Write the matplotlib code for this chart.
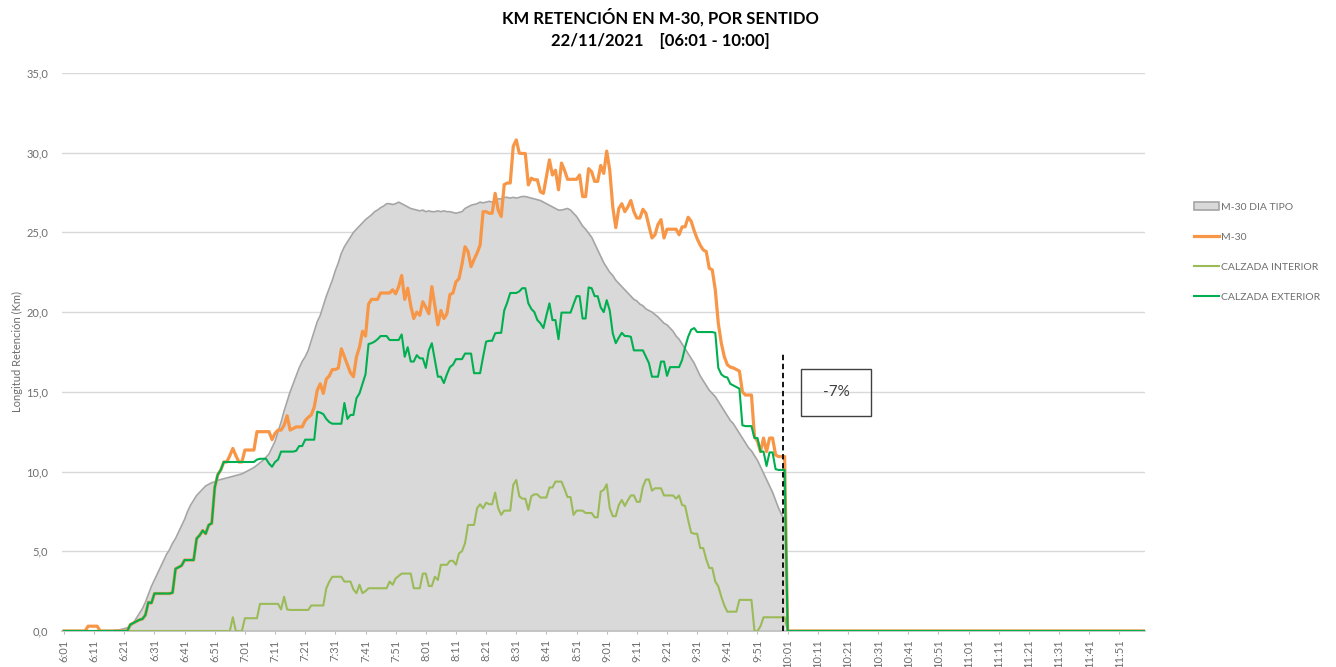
import numpy as np
import matplotlib.pyplot as plt
from matplotlib.patches import Rectangle, Patch
from matplotlib.lines import Line2D

plt.rcParams['font.family'] = ['Lato', 'DejaVu Sans']

# minute-by-minute values from 6:01 to 10:00 (240 points), km
dia_tipo = [
    0, 0, 0, 0, 0, 0, 0, 0, 0, 0,
    0, 0, 0, 0, 0, 0, 0, 0.05, 0.05, 0.1,
    0.15, 0.2, 0.3, 0.5, 0.8, 1.1, 1.4, 1.8, 2.3, 2.8,
    3.2, 3.6, 4.0, 4.4, 4.8, 5.1, 5.5, 5.8, 6.2, 6.6,
    7.0, 7.5, 7.9, 8.2, 8.5, 8.7, 8.9, 9.1, 9.2, 9.3,
    9.35, 9.45, 9.5, 9.55, 9.6, 9.65, 9.7, 9.75, 9.8, 9.85,
    9.95, 10.05, 10.15, 10.25, 10.4, 10.55, 10.7, 10.9, 11.1, 11.5,
    11.9, 12.5, 13.1, 13.8, 14.4, 15.0, 15.5, 16.0, 16.5, 16.9,
    17.2, 17.6, 18.2, 18.8, 19.4, 19.8, 20.4, 21.0, 21.5, 22.0,
    22.6, 23.1, 23.7, 24.1, 24.4, 24.7, 25.0, 25.2, 25.4, 25.6,
    25.8, 25.95, 26.1, 26.3, 26.4, 26.55, 26.65, 26.8, 26.8, 26.75,
    26.8, 26.9, 26.8, 26.7, 26.6, 26.5, 26.45, 26.4, 26.35, 26.4,
    26.3, 26.35, 26.3, 26.3, 26.35, 26.3, 26.35, 26.3, 26.3, 26.25,
    26.2, 26.25, 26.3, 26.5, 26.6, 26.7, 26.75, 26.8, 26.9, 26.85,
    26.9, 26.95, 26.9, 27.0, 27.1, 27.1, 27.2, 27.2, 27.15, 27.2,
    27.15, 27.2, 27.25, 27.25, 27.2, 27.15, 27.1, 27.05, 27.0, 26.9,
    26.8, 26.7, 26.6, 26.5, 26.4, 26.4, 26.45, 26.5, 26.4, 26.2,
    26.0, 25.7, 25.4, 25.2, 24.95, 24.7, 24.3, 23.9, 23.5, 23.1,
    22.8, 22.5, 22.3, 22.0, 21.8, 21.6, 21.4, 21.2, 21.0, 20.8,
    20.7, 20.5, 20.4, 20.2, 20.1, 20.0, 19.85, 19.7, 19.5, 19.3,
    19.2, 19.0, 18.8, 18.5, 18.3, 18.0, 17.7, 17.4, 17.1, 16.8,
    16.4, 16.0, 15.7, 15.4, 15.1, 14.9, 14.7, 14.4, 14.1, 13.8,
    13.5, 13.2, 13.0, 12.7, 12.4, 12.1, 11.8, 11.5, 11.3, 11.0,
    10.7, 10.3, 9.9, 9.5, 9.1, 8.7, 8.2, 7.7, 7.3, 7.0,
]

m30 = [
    0, 0, 0, 0, 0, 0, 0, 0, 0.3, 0.3,
    0.3, 0.3, 0, 0, 0, 0, 0, 0, 0, 0,
    0, 0, 0.4, 0.5, 0.6, 0.7, 0.75, 1.0, 1.8, 1.75,
    2.35, 2.35, 2.35, 2.35, 2.35, 2.35, 2.4, 3.9, 4.0, 4.1,
    4.45, 4.45, 4.45, 4.45, 5.8, 6.0, 6.3, 6.1, 6.65, 6.75,
    9.0, 9.8, 10.1, 10.6, 10.6, 11.0, 11.45, 11.0, 10.6, 10.6,
    11.35, 11.35, 11.35, 11.35, 12.5, 12.5, 12.5, 12.5, 12.5, 12.0,
    12.4, 12.6, 12.6, 12.9, 13.5, 12.6, 12.7, 12.8, 12.8, 12.8,
    13.2, 13.4, 13.55, 14.05, 15.1, 15.5, 14.9, 15.8, 16.0, 16.4,
    16.4, 16.5, 17.7, 17.2, 16.7, 16.2, 15.95, 17.2, 17.8, 18.8,
    18.5, 20.5, 20.8, 20.8, 20.8, 21.2, 21.2, 21.2, 21.2, 21.4,
    21.15, 21.6, 22.3, 20.8, 21.5, 20.4, 19.6, 20.0, 19.8, 20.65,
    20.3, 19.9, 21.6, 20.4, 19.2, 20.1, 19.6, 19.9, 21.1, 21.2,
    21.9, 22.1, 23.0, 24.1, 23.8, 22.85, 23.3, 23.7, 24.2, 26.3,
    26.3, 26.2, 26.2, 27.45, 26.4, 26.0, 28.0, 28.1, 28.1, 30.4,
    30.8, 29.97, 29.95, 29.95, 27.98, 28.4, 28.3, 28.3, 27.55, 27.45,
    28.5, 29.55, 28.6, 28.9, 27.67, 29.35, 28.9, 28.33, 28.33, 28.33,
    28.33, 28.6, 27.25, 27.25, 29.0, 28.8, 28.2, 28.2, 29.2, 28.7,
    30.1, 28.9, 26.6, 25.3, 26.5, 26.8, 26.3, 26.6, 27.0, 26.3,
    25.9, 25.9, 26.45, 26.2, 25.4, 24.65, 24.85, 25.5, 25.8, 24.65,
    25.2, 25.2, 25.2, 25.2, 24.85, 25.35, 25.35, 25.95, 25.7, 25.1,
    24.6, 24.2, 23.9, 23.8, 22.75, 22.65, 21.4, 19.3, 18.05, 17.2,
    16.7, 16.55, 16.5, 16.4, 16.3, 15.0, 14.8, 14.8, 14.8, 12.2,
    11.9, 11.25, 12.1, 11.25, 12.1, 12.1, 11.04, 10.94, 10.94, 10.94,
]

exterior = [
    0, 0, 0, 0, 0, 0, 0, 0, 0, 0,
    0, 0, 0, 0, 0, 0, 0, 0, 0, 0,
    0, 0, 0.4, 0.5, 0.6, 0.7, 0.75, 1.0, 1.8, 1.75,
    2.35, 2.35, 2.35, 2.35, 2.35, 2.35, 2.4, 3.9, 4.0, 4.1,
    4.45, 4.45, 4.45, 4.45, 5.8, 6.0, 6.3, 6.1, 6.65, 6.75,
    9.0, 9.8, 10.1, 10.6, 10.6, 10.6, 10.6, 10.6, 10.6, 10.6,
    10.6, 10.6, 10.6, 10.6, 10.75, 10.8, 10.8, 10.8, 10.5, 10.3,
    10.6, 10.75, 11.25, 11.25, 11.25, 11.25, 11.25, 11.3, 11.6, 11.6,
    12.0, 12.0, 12.0, 12.0, 13.75, 13.7, 13.6, 13.3, 13.1, 13.0,
    13.0, 13.0, 13.0, 14.3, 13.3, 13.55, 13.55, 14.6, 14.9, 15.5,
    16.1, 18.0, 18.05, 18.15, 18.3, 18.5, 18.5, 18.5, 18.25, 18.25,
    18.25, 18.25, 18.6, 17.2, 17.8, 16.9, 16.9, 17.3, 17.1, 17.1,
    16.5, 17.6, 18.05, 17.0, 15.95, 15.95, 15.55, 16.1, 16.55, 16.7,
    17.05, 17.05, 17.05, 17.4, 17.4, 17.4, 16.17, 16.17, 16.17, 17.2,
    18.15, 18.2, 18.2, 18.67, 18.7, 18.7, 20.1, 20.6, 21.2, 21.2,
    21.2, 21.3, 21.5, 21.5, 20.55, 20.2, 20.0, 19.5, 19.3, 19.0,
    19.8, 20.55, 19.5, 19.5, 18.3, 19.97, 19.97, 19.97, 19.97, 20.5,
    21.0, 21.0, 19.6, 19.6, 21.55, 21.5, 21.0, 21.0, 20.3, 20.0,
    20.75, 20.1, 18.67, 18.05, 18.4, 18.7, 18.5, 18.5, 18.45, 17.6,
    17.6, 17.6, 17.6, 17.2, 16.8, 15.95, 15.95, 15.95, 16.9, 16.9,
    16.0, 16.55, 16.55, 16.55, 16.55, 17.0, 17.8, 18.45, 18.9, 19.0,
    18.75, 18.75, 18.75, 18.75, 18.75, 18.75, 18.7, 16.5, 16.1, 15.95,
    15.9, 15.5, 15.4, 15.3, 15.2, 12.9, 12.85, 12.85, 12.85, 12.1,
    12.1, 11.25, 11.25, 10.35, 11.2, 11.2, 10.15, 10.1, 10.1, 10.1,
]

interior = [
    0, 0, 0, 0, 0, 0, 0, 0, 0, 0,
    0, 0, 0, 0, 0, 0, 0, 0, 0, 0,
    0, 0, 0, 0, 0, 0, 0, 0, 0, 0,
    0, 0, 0, 0, 0, 0, 0, 0, 0, 0,
    0, 0, 0, 0, 0, 0, 0, 0, 0, 0,
    0, 0, 0, 0, 0, 0, 0.86, 0, 0, 0,
    0.8, 0.8, 0.8, 0.8, 0.8, 1.7, 1.7, 1.7, 1.7, 1.7,
    1.7, 1.7, 1.35, 2.15, 1.35, 1.32, 1.32, 1.32, 1.32, 1.32,
    1.32, 1.32, 1.6, 1.6, 1.6, 1.6, 1.6, 2.68, 3.1, 3.4,
    3.4, 3.4, 3.4, 3.1, 3.1, 3.1, 2.6, 2.37, 2.9, 2.37,
    2.5, 2.68, 2.68, 2.68, 2.68, 2.68, 2.68, 2.68, 3.1, 2.9,
    3.3, 3.45, 3.6, 3.6, 3.6, 3.6, 2.68, 2.68, 2.68, 3.6,
    3.6, 2.82, 2.82, 3.4, 3.2, 4.15, 4.15, 4.15, 4.4, 4.4,
    4.15, 4.87, 5.0, 5.5, 6.65, 6.65, 6.65, 7.7, 7.95, 7.7,
    8.05, 7.95, 7.95, 8.68, 7.7, 7.28, 7.55, 7.55, 7.55, 9.16,
    9.47, 8.45, 8.3, 8.3, 7.6, 8.45, 8.57, 8.57, 8.37, 8.37,
    8.37, 9.0, 9.0, 9.37, 9.37, 9.37, 8.9, 8.4, 8.4, 7.28,
    7.55, 7.55, 7.55, 7.4, 7.4, 7.4, 7.13, 7.13, 8.74, 8.85,
    9.2, 7.7, 7.2, 7.2, 7.9, 8.22, 7.84, 8.2, 8.5, 8.5,
    8.1, 8.1, 9.05, 9.5, 9.5, 8.8, 8.95, 8.95, 8.95, 8.5,
    8.5, 8.5, 8.5, 8.3, 8.5, 7.9, 7.84, 6.96, 6.17, 6.1,
    6.1, 5.2, 5.2, 4.5, 3.95, 3.95, 3.1, 2.8, 2.15, 1.6,
    1.21, 1.21, 1.21, 1.21, 1.95, 1.95, 1.95, 1.95, 1.95, 0,
    0, 0.3, 0.86, 0.86, 0.86, 0.86, 0.86, 0.86, 0.86, 0.86,
]

# after 10:00 the three measured series sit at zero until 12:00
n_total = 360
pad = [0] * (n_total - len(m30))
m30_full = m30 + pad
exterior_full = exterior + pad
interior_full = interior + pad

tick_labels = [f"{6 + (1 + 10 * i) // 60}:{(1 + 10 * i) % 60:02d}" for i in range(36)]
y_ticks = [0, 5, 10, 15, 20, 25, 30, 35]
variation = "-7%"

C_ORANGE = '#F79646'
C_GREEN = '#00B050'
C_LGREEN = '#9BBB59'
C_FILL = '#D9D9D9'
C_EDGE = '#A5A5A5'
C_TXT = '#6E6E6E'

fig = plt.figure(figsize=(13.36, 6.67), dpi=100)
ax = fig.add_axes([0.0464, 0.054, 0.857 - 0.0464, 0.8906 - 0.054])

x_tipo = np.arange(len(dia_tipo))
x_all = np.arange(n_total)

ax.fill_between(x_tipo, 0, dia_tipo, color=C_FILL, lw=0, zorder=1)
ax.plot(x_tipo, dia_tipo, color=C_EDGE, lw=1.2, zorder=2)
ax.plot(x_all, interior_full, color=C_LGREEN, lw=1.5, zorder=3)
ax.plot(x_all, m30_full, color=C_ORANGE, lw=2.3, zorder=4)
ax.plot(x_all, exterior_full, color=C_GREEN, lw=1.5, zorder=5)

# end-of-period marker and variation box
ax.plot([238.6, 238.6], [0, 17.5], color='black', lw=1.3, ls=(0, (3, 2)), zorder=6)
ax.add_patch(Rectangle((244.4, 13.49), 23.3, 2.95, fill=False, ec='#404040', lw=1.0, zorder=6))
ax.text(256, 14.96, variation, ha='center', va='center', fontsize=11, color='#404040', zorder=7)

ax.set_xlim(-0.66, 358.5)
ax.set_ylim(0, 35)
ax.set_yticks(y_ticks)
ax.set_yticklabels([f"{v:.1f}".replace('.', ',') for v in y_ticks], fontsize=8, color=C_TXT)
ax.set_xticks(np.arange(0, n_total, 10))
ax.set_xticklabels(tick_labels, rotation=90, fontsize=8, color=C_TXT)
ax.tick_params(axis='y', length=0, pad=10)
ax.tick_params(axis='x', length=2, color='#BFBFBF', pad=4)
ax.grid(axis='y', color='#D9D9D9', lw=1)
ax.set_axisbelow(True)
for side in ['top', 'right', 'left']:
    ax.spines[side].set_visible(False)
ax.spines['bottom'].set_color('#BFBFBF')
ax.spines['bottom'].set_linewidth(1.2)

ax.set_ylabel("Longitud Retención (Km)", fontsize=8, color=C_TXT, labelpad=2)

fig.text(0.494, 0.974, "KM RETENCIÓN EN M-30, POR SENTIDO", ha='center', va='center',
         fontsize=12, fontweight='bold', color='black')
fig.text(0.494, 0.939, "22/11/2021    [06:01 - 10:00]", ha='center', va='center',
         fontsize=12, fontweight='bold', color='black')

handles = [
    Patch(facecolor=C_FILL, edgecolor=C_EDGE, lw=1.2),
    Line2D([], [], color=C_ORANGE, lw=2.3),
    Line2D([], [], color=C_LGREEN, lw=1.5),
    Line2D([], [], color=C_GREEN, lw=1.5),
]
labels = ["M-30 DIA TIPO", "M-30", "CALZADA INTERIOR", "CALZADA EXTERIOR"]
fig.legend(handles, labels, loc='upper left', bbox_to_anchor=(1185 / 1336, 1 - 193 / 667),
           frameon=False, fontsize=7.5, labelcolor=C_TXT, handlelength=2.4,
           handleheight=0.7, handletextpad=0.2, labelspacing=2.0)

fig.savefig('out.png', dpi=100)
